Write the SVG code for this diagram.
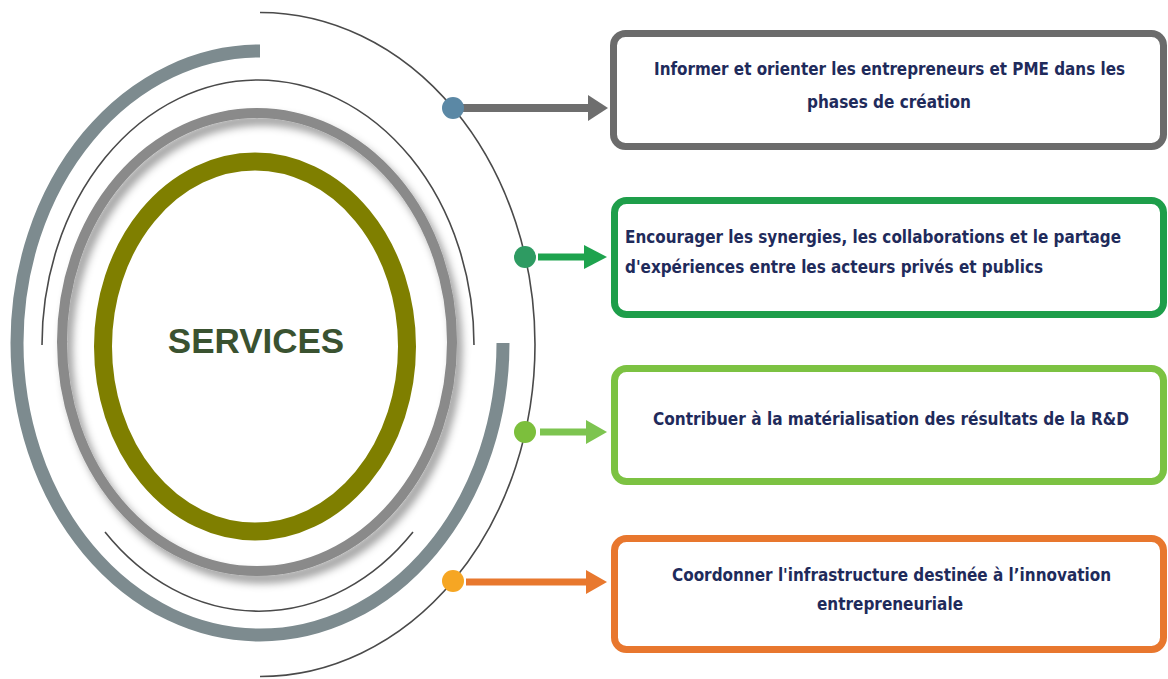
<svg xmlns="http://www.w3.org/2000/svg" width="1168" height="679" viewBox="0 0 1168 679">
  <style>
    .thin { fill: none; stroke: #4a4a4a; stroke-width: 1.6; }
    .box { fill: #ffffff; stroke-width: 7; }
    .lbl { font-family: "Liberation Sans Narrow", "DejaVu Sans Condensed", "Liberation Sans", sans-serif; font-weight: bold; font-size: 18px; fill: #1f2b5b; }
    .title { font-family: "Liberation Sans", Arial, sans-serif; font-weight: bold; font-size: 35px; fill: #3a5230; }
  </style>
  <defs>
    <filter id="shadow" x="-20%" y="-20%" width="140%" height="140%">
      <feDropShadow dx="5" dy="7" stdDeviation="4" flood-color="#000000" flood-opacity="0.4"/>
    </filter>
  </defs>
  <rect width="1168" height="679" fill="#ffffff"/>

  <g id="rings">
    <path d="M 260 51 A 243 292 0 1 0 503 343" fill="none" stroke="#7d8b8f" stroke-width="13"/>
    <path class="thin" d="M 42 345 A 216 265 0 0 1 474 345"/>
    <path class="thin" d="M 105 532 A 216 265 0 0 0 413 532"/>
    <ellipse cx="257" cy="342" rx="195" ry="229" fill="none" stroke="#8a8a8a" stroke-width="10" filter="url(#shadow)"/>
    <path class="thin" d="M 260 12.5 A 275 332 0 0 1 260 676.5" stroke="#555555"/>
  </g>

  <g id="services">
    <ellipse cx="255" cy="346.5" rx="152" ry="185" fill="none" stroke="#7f7f00" stroke-width="18"/>
    <text class="title" x="256" y="353" text-anchor="middle">SERVICES</text>
  </g>

  <g id="connectors">
    <line x1="460" y1="108" x2="592" y2="108" stroke="#6e6e6e" stroke-width="8"/>
    <polygon points="588,95 608,108 588,121" fill="#6e6e6e"/>
    <circle cx="453" cy="108" r="11" fill="#5b88a5"/>

    <line x1="538" y1="257" x2="588" y2="257" stroke="#1ea34e" stroke-width="7"/>
    <polygon points="584,245 607,257 584,269" fill="#1ea34e"/>
    <circle cx="525" cy="257" r="11" fill="#2e9b62"/>

    <line x1="540" y1="432" x2="590" y2="432" stroke="#7dc450" stroke-width="7"/>
    <polygon points="586,420 607,432 586,444" fill="#7dc450"/>
    <circle cx="525" cy="432" r="11" fill="#7cbf3c"/>

    <line x1="466" y1="582" x2="590" y2="582" stroke="#e8782e" stroke-width="7"/>
    <polygon points="586,570 607,582 586,594" fill="#e8782e"/>
    <circle cx="453" cy="581" r="11" fill="#f6a623"/>
  </g>

  <g id="box1">
    <rect class="box" x="613.5" y="33.5" width="550" height="113" rx="12" stroke="#6b6b6b"/>
    <text class="lbl" x="654" y="75" textLength="471" lengthAdjust="spacingAndGlyphs">Informer et orienter les entrepreneurs et PME dans les</text>
    <text class="lbl" x="807" y="108" textLength="164" lengthAdjust="spacingAndGlyphs">phases de création</text>
  </g>

  <g id="box2">
    <rect class="box" x="614.5" y="200.5" width="549" height="114" rx="12" stroke="#1e9e4a"/>
    <text class="lbl" x="625" y="243" textLength="496" lengthAdjust="spacingAndGlyphs">Encourager les synergies, les collaborations et le partage</text>
    <text class="lbl" x="625" y="273" textLength="418" lengthAdjust="spacingAndGlyphs">d'expériences entre les acteurs privés et publics</text>
  </g>

  <g id="box3">
    <rect class="box" x="614.5" y="368.5" width="549" height="113" rx="12" stroke="#7cc242"/>
    <text class="lbl" x="653" y="425" textLength="476" lengthAdjust="spacingAndGlyphs">Contribuer à la matérialisation des résultats de la R&amp;D</text>
  </g>

  <g id="box4">
    <rect class="box" x="614.5" y="538.5" width="549" height="111" rx="12" stroke="#e8772e"/>
    <text class="lbl" x="672" y="581" textLength="439" lengthAdjust="spacingAndGlyphs">Coordonner l'infrastructure destinée à l’innovation</text>
    <text class="lbl" x="817" y="610" textLength="146" lengthAdjust="spacingAndGlyphs">entrepreneuriale</text>
  </g>
</svg>
